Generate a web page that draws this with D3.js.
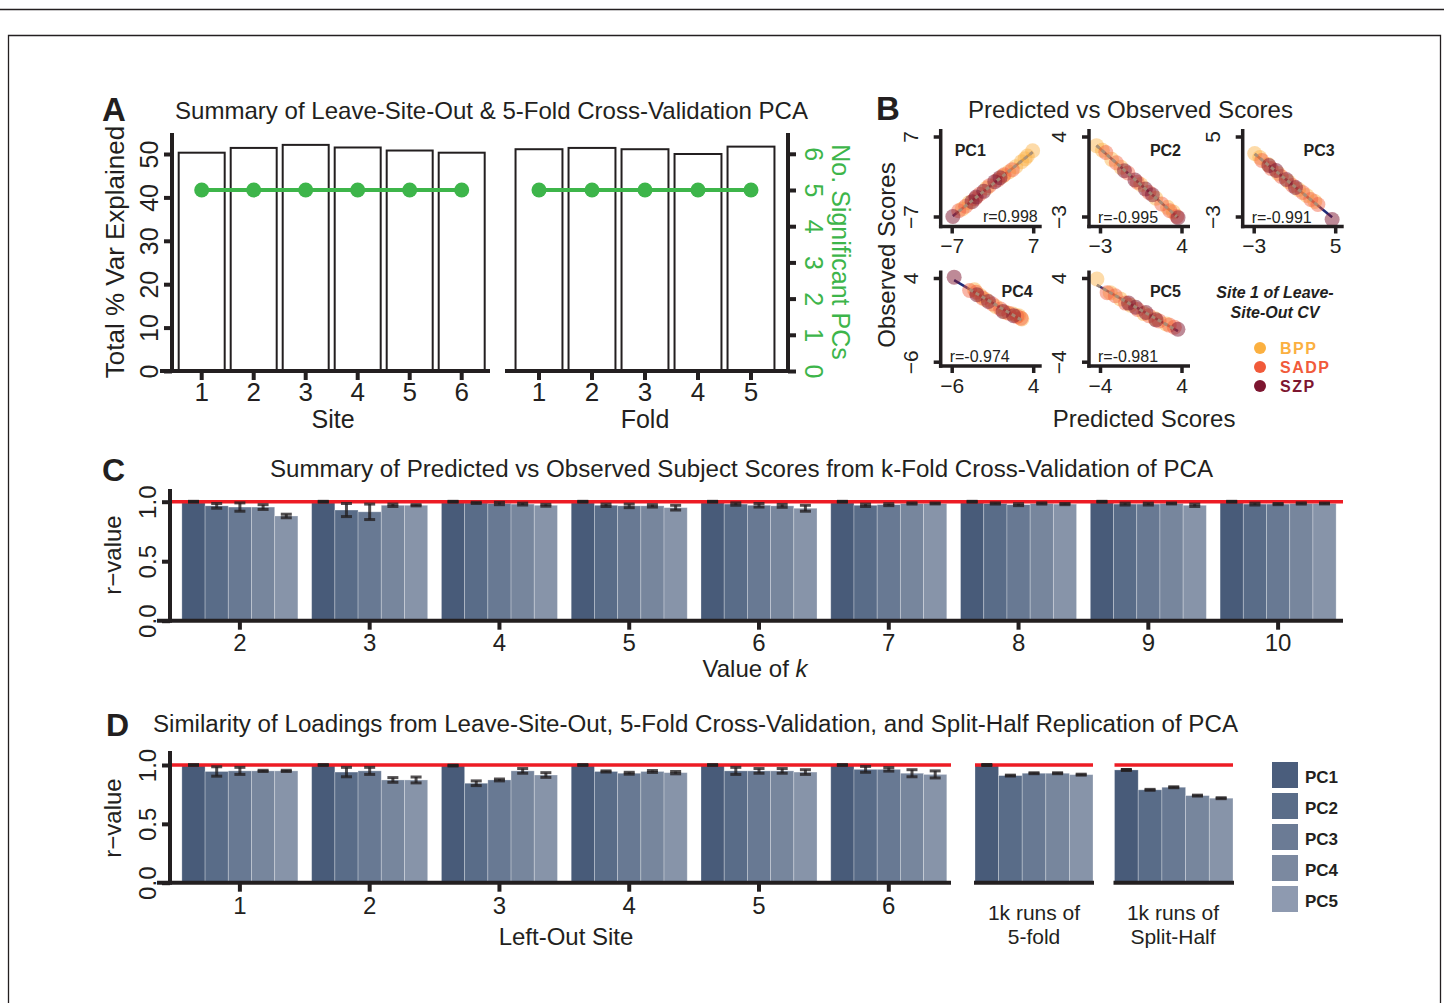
<!DOCTYPE html>
<html>
<head>
<meta charset="utf-8">
<script src="https://cdn.jsdelivr.net/npm/d3@7"></script>
<style>
  body { margin: 0; background: #fff; }
  svg text { font-family: "Liberation Sans", Arial, Helvetica, sans-serif; }
</style>
</head>
<body>
<svg id="fig" width="1444" height="1003"></svg>
<script>
// ---- Panel A data
const sites = [1, 2, 3, 4, 5, 6];
const siteVarExplained = [50.3, 51.4, 52.1, 51.5, 50.8, 50.3];
const siteSigPCs = [5, 5, 5, 5, 5, 5];
const folds = [1, 2, 3, 4, 5];
const foldVarExplained = [51.1, 51.4, 51.1, 50.0, 51.7];
const foldSigPCs = [5, 5, 5, 5, 5];
const varTicks = [0, 10, 20, 30, 40, 50];
const sigTicks = [0, 1, 2, 3, 4, 5, 6];

// ---- Panel B data: [predicted, observed, group index]
const groups = ['BPP', 'SADP', 'SZP'];
const pc1Scores = [
  [-5.2, -5.7, 0], [-4.0, -4.6, 0], [-1.0, -2.0, 0], [1.8, 0.1, 0], [2.8, 0.8, 0],
  [4.0, 1.7, 0], [5.0, 2.6, 0], [5.6, 3.1, 0], [6.0, 3.6, 0], [6.9, 4.5, 0],
  [-5.8, -6.0, 1], [-4.6, -5.2, 1], [-3.0, -3.9, 1], [-2.2, -3.1, 1], [-0.5, -1.6, 1],
  [0.9, -0.6, 1], [2.0, 0.3, 1], [3.4, 1.2, 1],
  [-6.8, -7.0, 2], [-3.5, -4.4, 2], [-2.8, -3.6, 2], [-1.5, -2.6, 2], [0.4, -0.9, 2], [1.3, -0.2, 2]
];
const pc2Scores = [
  [-3.3, 3.2, 0], [-2.8, 2.8, 0], [-2.0, 2.0, 0], [-1.2, 1.3, 0], [0.5, -0.2, 0],
  [1.8, -1.4, 0], [2.8, -2.2, 0], [3.3, -2.6, 0],
  [-2.5, 2.6, 1], [-1.6, 1.7, 1], [-0.6, 0.8, 1], [0.2, 0.0, 1], [1.2, -0.9, 1],
  [2.3, -1.9, 1], [3.0, -2.5, 1], [3.6, -3.0, 1],
  [-0.9, 1.0, 2], [0.0, 0.2, 2], [0.9, -0.6, 2], [1.5, -1.1, 2], [3.7, -3.1, 2]
];
const pc3Scores = [
  [-2.9, 3.3, 0], [-2.4, 2.9, 0], [-1.6, 2.2, 0], [-0.6, 1.3, 0], [0.4, 0.5, 0],
  [1.4, -0.3, 0], [2.2, -0.9, 0], [3.0, -1.5, 0],
  [-2.2, 2.6, 1], [-1.3, 1.8, 1], [-0.3, 1.0, 1], [0.8, 0.1, 1], [1.8, -0.6, 1],
  [2.6, -1.3, 1], [3.3, -1.8, 1],
  [-1.5, 2.1, 2], [-0.8, 1.6, 2], [0.2, 0.7, 2], [1.1, -0.1, 2], [4.7, -3.3, 2]
];
const pc4Scores = [
  [-3.2, 2.6, 0], [-2.5, 1.9, 0], [-1.8, 1.4, 0], [-0.6, 0.6, 0], [0.6, -0.1, 0],
  [1.5, -0.3, 0], [2.2, -0.5, 0], [2.6, -0.9, 0],
  [-3.8, 2.5, 1], [-3.0, 2.3, 1], [-2.2, 1.6, 1], [-1.0, 0.9, 1], [0.0, 0.3, 1],
  [1.0, -0.2, 1], [2.0, -0.6, 1], [2.5, -0.8, 1],
  [-5.7, 4.1, 2], [-2.9, 2.0, 2], [-1.5, 1.2, 2], [0.3, 0.0, 2], [1.6, -0.5, 2]
];
const pc5Scores = [
  [-4.3, 3.9, 0], [-3.0, 2.6, 0], [-2.0, 2.0, 0], [-1.0, 1.4, 0], [0.3, 0.6, 0],
  [1.4, 0.1, 0], [2.5, -0.4, 0],
  [-3.3, 2.6, 1], [-2.5, 2.3, 1], [-1.5, 1.6, 1], [-0.3, 1.0, 1], [0.8, 0.4, 1],
  [1.8, -0.1, 1], [2.8, -0.5, 1], [3.3, -0.7, 1],
  [-1.2, 1.6, 2], [-0.5, 1.2, 2], [0.5, 0.7, 2], [1.5, 0.0, 2], [3.65, -0.9, 2]
];
const scatterNames = ['PC1', 'PC2', 'PC3', 'PC4', 'PC5'];
const scatterR = ['r=0.998', 'r=-0.995', 'r=-0.991', 'r=-0.974', 'r=-0.981'];
const scatterTicks = [[-7, 7], [-3, 4], [-3, 5], [-6, 4], [-4, 4]];

// ---- Panel C data (mean r and error per PC, for each k)
const pcs = ['PC1', 'PC2', 'PC3', 'PC4', 'PC5'];
const kValues = [2, 3, 4, 5, 6, 7, 8, 9, 10];
const kMeans = [
  [1.0, 0.965, 0.955, 0.955, 0.88],
  [1.0, 0.93, 0.915, 0.97, 0.97],
  [1.0, 0.99, 0.985, 0.98, 0.97],
  [1.0, 0.97, 0.965, 0.965, 0.95],
  [1.0, 0.98, 0.97, 0.965, 0.945],
  [1.0, 0.97, 0.975, 0.985, 0.985],
  [1.0, 0.985, 0.975, 0.985, 0.98],
  [1.0, 0.98, 0.98, 0.985, 0.97],
  [1.0, 0.98, 0.98, 0.985, 0.985]
];
const kErrs = [
  [0.003, 0.02, 0.035, 0.02, 0.015],
  [0.003, 0.055, 0.065, 0.01, 0.005],
  [0.003, 0.005, 0.01, 0.008, 0.008],
  [0.003, 0.01, 0.015, 0.01, 0.02],
  [0.003, 0.01, 0.015, 0.012, 0.025],
  [0.003, 0.01, 0.008, 0.005, 0.004],
  [0.003, 0.005, 0.008, 0.005, 0.005],
  [0.003, 0.008, 0.008, 0.004, 0.01],
  [0.003, 0.008, 0.005, 0.005, 0.004]
];

// ---- Panel D data
const leftOutSites = [1, 2, 3, 4, 5, 6];
const siteMeans = [
  [1.0, 0.945, 0.95, 0.95, 0.95],
  [1.0, 0.94, 0.95, 0.873, 0.873],
  [0.995, 0.845, 0.873, 0.95, 0.915],
  [1.0, 0.945, 0.93, 0.945, 0.935],
  [1.0, 0.95, 0.95, 0.95, 0.94],
  [1.0, 0.963, 0.963, 0.93, 0.92]
];
const siteErrs = [
  [0.003, 0.04, 0.03, 0.005, 0.005],
  [0.003, 0.04, 0.03, 0.02, 0.025],
  [0.003, 0.02, 0.008, 0.02, 0.02],
  [0.003, 0.005, 0.008, 0.008, 0.01],
  [0.003, 0.03, 0.02, 0.02, 0.02],
  [0.003, 0.025, 0.015, 0.03, 0.03]
];
const fiveFoldMeans = [1.0, 0.91, 0.93, 0.93, 0.918];
const fiveFoldErrs = [0.004, 0.004, 0.004, 0.004, 0.004];
const splitHalfMeans = [0.958, 0.789, 0.811, 0.74, 0.718];
const splitHalfErrs = [0.004, 0.004, 0.004, 0.004, 0.004];

// ---- Styles
const ink = '#231f20';
const green = '#3db54a';
const red = '#ed1c24';
const navy = '#1f2a78';
const pcColors = ['#485b79', '#596c88', '#687993', '#77869d', '#8794a9'];
const legendColors = ['#4a5d7c', '#5a6d89', '#6b7b95', '#7b89a0', '#8e9ab0'];
const groupColors = ['#fbb040', '#f15a3a', '#7d1630'];

const svg = d3.select('#fig');

function label(g, txt, x, y, opts = {}) {
  const t = g.append('text')
    .attr('transform', `translate(${x},${y})` + (opts.rotate ? ` rotate(${opts.rotate})` : ''))
    .attr('text-anchor', opts.anchor || 'middle')
    .style('font-size', (opts.size || 24) + 'px')
    .style('font-weight', opts.weight || 'normal')
    .style('font-style', opts.italic ? 'italic' : 'normal')
    .style('fill', opts.fill || ink)
    .text(txt);
  if (opts.len) t.attr('textLength', opts.len).attr('lengthAdjust', 'spacingAndGlyphs');
  if (opts.spacing) t.style('letter-spacing', opts.spacing + 'px');
  return t;
}

function line(g, x1, y1, x2, y2, color, w) {
  return g.append('line')
    .attr('x1', x1).attr('y1', y1).attr('x2', x2).attr('y2', y2)
    .attr('stroke', color || ink).attr('stroke-width', w || 4);
}

// clean up a d3 axis: no domain path, thick ticks, styled labels
function styleAxis(g, size, color, tickW) {
  g.attr('font-size', null).attr('font-family', null);
  g.select('.domain').remove();
  g.selectAll('.tick line').attr('stroke', ink).attr('stroke-width', tickW || 4);
  g.selectAll('.tick text').style('fill', color || ink).style('font-size', size + 'px');
}

function rotateLabels(g, angle, off) {
  g.selectAll('.tick text')
    .attr('transform', `rotate(${angle})`)
    .attr('x', 0).attr('y', -off).attr('dy', 0)
    .attr('text-anchor', 'middle');
}

// ---- Frame
line(svg, 0, 9.5, 1444, 9.5, ink, 1.3);
svg.append('path').attr('d', 'M8.5,1003V35.5H1440.5V1003')
  .attr('fill', 'none').attr('stroke', ink).attr('stroke-width', 1.3);

// =================== Panel A ===================
const gA = svg.append('g');
label(gA, 'A', 102, 121, { anchor: 'start', size: 33, weight: 'bold' });
label(gA, 'Summary of Leave-Site-Out & 5-Fold Cross-Validation PCA', 175, 119,
  { anchor: 'start', size: 24, len: 633 });

const yVar = d3.scaleLinear().domain([0, 55]).range([371, 132.3]);
const ySig = d3.scaleLinear().domain([0, 6]).range([371, 153.8]);
const xSite = d3.scaleBand().domain(sites).range([175.7, 487.7])
  .paddingInner(0.077).paddingOuter(0.0385);
const xFold = d3.scaleBand().domain(folds).range([512.5, 777.5])
  .paddingInner(0.077).paddingOuter(0.0385);

function drawVarBars(x, cats, vals, sig) {
  gA.append('g').selectAll('rect').data(vals).join('rect')
    .attr('x', (d, i) => x(cats[i]) + 1)
    .attr('y', (d) => yVar(d))
    .attr('width', x.bandwidth() - 2)
    .attr('height', (d) => yVar(0) - yVar(d))
    .attr('fill', '#fff').attr('stroke', ink).attr('stroke-width', 2);
  const pts = sig.map((d, i) => [x(cats[i]) + x.bandwidth() / 2, ySig(d)]);
  gA.append('path').attr('d', d3.line()(pts))
    .attr('fill', 'none').attr('stroke', green).attr('stroke-width', 4);
  gA.append('g').selectAll('circle').data(pts).join('circle')
    .attr('cx', (d) => d[0]).attr('cy', (d) => d[1]).attr('r', 7.5).attr('fill', green);
}
drawVarBars(xSite, sites, siteVarExplained, siteSigPCs);
drawVarBars(xFold, folds, foldVarExplained, foldSigPCs);

// axes
const axA = gA.append('g').attr('transform', 'translate(172,0)')
  .call(d3.axisLeft(yVar).tickValues(varTicks).tickSize(8));
styleAxis(axA, 25);
rotateLabels(axA, -90, 14);
line(gA, 172, 133, 172, 373);
line(gA, 160, 371, 490, 371);
line(gA, 505, 371, 790, 371);

const axSite = gA.append('g').attr('transform', 'translate(0,371)')
  .call(d3.axisBottom(xSite).tickSize(9).tickPadding(3));
styleAxis(axSite, 26);
const axFold = gA.append('g').attr('transform', 'translate(0,371)')
  .call(d3.axisBottom(xFold).tickSize(9).tickPadding(3));
styleAxis(axFold, 26);

const axSig = gA.append('g').attr('transform', 'translate(788,0)')
  .call(d3.axisRight(ySig).tickValues(sigTicks).tickFormat(d3.format('d')).tickSize(8));
styleAxis(axSig, 25, green);
rotateLabels(axSig, 90, 17);
line(gA, 788, 133, 788, 373);

label(gA, 'Total % Var Explained', 124, 252, { rotate: -90, size: 26 });
label(gA, 'Site', 333, 428, { size: 25 });
label(gA, 'Fold', 645, 428, { size: 25 });
label(gA, 'No. Significant PCs', 832, 252, { rotate: 90, size: 25, fill: green });

// =================== Panel B ===================
const gB = svg.append('g');
label(gB, 'B', 876, 120, { anchor: 'start', size: 33, weight: 'bold' });
label(gB, 'Predicted vs Observed Scores', 968, 118, { anchor: 'start', size: 24, len: 325 });

const scatterData = [pc1Scores, pc2Scores, pc3Scores, pc4Scores, pc5Scores];
const scatterAxisX = [940.7, 1089, 1242.7, 940.7, 1089];
const scatterRow = [0, 0, 0, 1, 1];
const rowLayout = [
  { hi: 136.5, lo: 216.5, top: 129, base: 226.5 },
  { hi: 278, lo: 361.7, top: 270.5, base: 366 }
];

function drawScatter(i) {
  const ax = scatterAxisX[i];
  const row = rowLayout[scatterRow[i]];
  const [t0, t1] = scatterTicks[i];
  const x = d3.scaleLinear().domain([t0, t1]).range([ax + 11, ax + 92.5]);
  const y = d3.scaleLinear().domain([t0, t1]).range([row.lo, row.hi]);
  const g = gB.append('g');
  const pts = scatterData[i];

  // least-squares fit through all points
  const mx = d3.mean(pts, (d) => d[0]);
  const my = d3.mean(pts, (d) => d[1]);
  const b = d3.sum(pts, (d) => (d[0] - mx) * (d[1] - my)) / d3.sum(pts, (d) => (d[0] - mx) ** 2);
  const a = my - b * mx;
  const [lo, hi] = d3.extent(pts, (d) => d[0]);
  line(g, x(lo), y(a + b * lo), x(hi), y(a + b * hi), navy, 2.5);

  g.selectAll('circle').data(pts).join('circle')
    .attr('cx', (d) => x(d[0])).attr('cy', (d) => y(d[1])).attr('r', 7.5)
    .attr('fill', (d) => groupColors[d[2]])
    .attr('fill-opacity', (d) => (d[2] === 2 ? 0.5 : 0.45));

  const [dlo, dhi] = d3.extent(pts.filter((d) => d[2] < 2), (d) => d[0]);
  line(g, x(dlo), y(a + b * dlo), x(dhi), y(a + b * dhi), '#a8937c', 3)
    .attr('stroke-dasharray', '4,3').attr('stroke-opacity', 0.85);

  // axes
  const fmt = d3.format('d');
  const axX = g.append('g').attr('transform', `translate(0,${row.base})`)
    .call(d3.axisBottom(x).tickValues([t0, t1]).tickFormat(fmt).tickSize(7).tickPadding(5));
  styleAxis(axX, 21, ink, 3.5);
  const axY = g.append('g').attr('transform', `translate(${ax},0)`)
    .call(d3.axisLeft(y).tickValues([t0, t1]).tickFormat(fmt).tickSize(7));
  styleAxis(axY, 21, ink, 3.5);
  rotateLabels(axY, -90, 23);
  line(g, ax, row.top, ax, row.base + 1.75, ink, 3.5);
  line(g, ax - 1.75, row.base, ax + 101, row.base, ink, 3.5);

  if (i === 0) {
    label(g, scatterNames[i], ax + 14, row.hi + 19, { anchor: 'start', size: 16, weight: 'bold' });
    label(g, scatterR[i], ax + 97, row.base - 5, { anchor: 'end', size: 16 });
  } else {
    label(g, scatterNames[i], ax + 92, row.hi + 19, { anchor: 'end', size: 16, weight: 'bold' });
    label(g, scatterR[i], ax + 9, row.base - 4, { anchor: 'start', size: 16 });
  }
}
scatterData.forEach((d, i) => drawScatter(i));

label(gB, 'Observed Scores', 895, 255, { rotate: -90, size: 24 });
label(gB, 'Predicted Scores', 1144, 427, { size: 24 });

// group legend
label(gB, 'Site 1 of Leave-', 1275, 298, { size: 16, weight: 'bold', italic: true });
label(gB, 'Site-Out CV', 1275, 318, { size: 16, weight: 'bold', italic: true });
gB.append('g').selectAll('circle').data(groups).join('circle')
  .attr('cx', 1260).attr('cy', (d, i) => 348 + i * 19).attr('r', 6)
  .attr('fill', (d, i) => groupColors[i]);
groups.forEach((gname, i) => {
  label(gB, gname, 1280, 354 + i * 19, { anchor: 'start', size: 16, weight: 'bold',
    fill: groupColors[i], spacing: 1.5 });
});

// =================== Bar helpers (C, D) ===================
function drawBars(g, x0, cats, means, y) {
  const x1 = d3.scaleBand().domain(pcs).range([0, x0.bandwidth()]);
  cats.forEach((c, i) => {
    g.append('g').selectAll('rect').data(means[i]).join('rect')
      .attr('x', (d, j) => x0(c) + x1(pcs[j]))
      .attr('y', (d) => y(d))
      .attr('width', x1.bandwidth())
      .attr('height', (d) => y(0) - y(d))
      .attr('fill', (d, j) => pcColors[j])
      .attr('stroke', '#ffffff').attr('stroke-opacity', 0.35).attr('stroke-width', 0.8);
  });
}

function drawErrs(g, x0, cats, means, errs, y) {
  const x1 = d3.scaleBand().domain(pcs).range([0, x0.bandwidth()]);
  cats.forEach((c, i) => {
    means[i].forEach((m, j) => {
      const cx = x0(c) + x1(pcs[j]) + x1.bandwidth() / 2;
      const e = errs[i][j];
      const eg = g.append('g').attr('stroke', ink).attr('stroke-opacity', j === 0 ? 0.95 : 0.78);
      line(eg, cx, y(m - e), cx, y(m + e), null, 3).attr('stroke', null);
      line(eg, cx - 5.5, y(m - e), cx + 5.5, y(m - e), null, 3).attr('stroke', null);
      line(eg, cx - 5.5, y(m + e), cx + 5.5, y(m + e), null, 3).attr('stroke', null);
    });
  });
}

function drawRAxis(g, y, top) {
  const ax = g.append('g').attr('transform', 'translate(170,0)')
    .call(d3.axisLeft(y).tickValues([0, 0.5, 1]).tickFormat(d3.format('.1f')).tickSize(8));
  styleAxis(ax, 24);
  rotateLabels(ax, -90, 14);
  line(g, 170, top, 170, y(0) + 2);
}

// =================== Panel C ===================
const gC = svg.append('g');
label(gC, 'C', 102, 481, { anchor: 'start', size: 32, weight: 'bold' });
label(gC, 'Summary of Predicted vs Observed Subject Scores from k-Fold Cross-Validation of PCA',
  270, 477, { anchor: 'start', size: 23, len: 943 });

const yC = d3.scaleLinear().domain([0, 1]).range([620.7, 501.7]);
const xK = d3.scaleBand().domain(kValues).range([175, 1343])
  .paddingInner(0.106).paddingOuter(0.053);
drawBars(gC, xK, kValues, kMeans, yC);
line(gC, 170, yC(1), 1343, yC(1), red, 3.5);
drawErrs(gC, xK, kValues, kMeans, kErrs, yC);
drawRAxis(gC, yC, 489);
line(gC, 157, yC(0), 1343, yC(0));
const axK = gC.append('g').attr('transform', `translate(0,${yC(0)})`)
  .call(d3.axisBottom(xK).tickSize(9).tickPadding(4));
styleAxis(axK, 24);

label(gC, 'r\u2212value', 121, 555, { rotate: -90, size: 24 });
const kTitle = label(gC, '', 755, 677, { size: 24 });
kTitle.append('tspan').text('Value of ');
kTitle.append('tspan').style('font-style', 'italic').text('k');

// =================== Panel D ===================
const gD = svg.append('g');
label(gD, 'D', 106, 736, { anchor: 'start', size: 32, weight: 'bold' });
label(gD, 'Similarity of Loadings from Leave-Site-Out, 5-Fold Cross-Validation, and Split-Half Replication of PCA',
  153, 732, { anchor: 'start', size: 23, len: 1085 });

const yD = d3.scaleLinear().domain([0, 1]).range([882.7, 765]);
const xSiteD = d3.scaleBand().domain(leftOutSites).range([175, 175 + 6 * 129.78])
  .paddingInner(0.106).paddingOuter(0.053);
const xFive = d3.scaleBand().domain(['5-fold']).range([975, 1093]);
const xSplit = d3.scaleBand().domain(['Split-Half']).range([1114.5, 1233]);

drawBars(gD, xSiteD, leftOutSites, siteMeans, yD);
drawBars(gD, xFive, ['5-fold'], [fiveFoldMeans], yD);
drawBars(gD, xSplit, ['Split-Half'], [splitHalfMeans], yD);
line(gD, 170, yD(1), 951, yD(1), red, 3.5);
line(gD, 975, yD(1), 1093, yD(1), red, 3.5);
line(gD, 1114.5, yD(1), 1233, yD(1), red, 3.5);
drawErrs(gD, xSiteD, leftOutSites, siteMeans, siteErrs, yD);
drawErrs(gD, xFive, ['5-fold'], [fiveFoldMeans], [fiveFoldErrs], yD);
drawErrs(gD, xSplit, ['Split-Half'], [splitHalfMeans], [splitHalfErrs], yD);
drawRAxis(gD, yD, 751);
line(gD, 157, yD(0), 951, yD(0));
line(gD, 974, yD(0), 1094, yD(0));
line(gD, 1113.5, yD(0), 1234, yD(0));
const axSD = gD.append('g').attr('transform', `translate(0,${yD(0)})`)
  .call(d3.axisBottom(xSiteD).tickSize(9).tickPadding(5));
styleAxis(axSD, 24);

label(gD, 'r\u2212value', 121, 818, { rotate: -90, size: 24 });
label(gD, 'Left-Out Site', 566, 945, { size: 24 });
label(gD, '1k runs of', 1034, 920, { size: 21 });
label(gD, '5-fold', 1034, 944, { size: 21 });
label(gD, '1k runs of', 1173, 920, { size: 21 });
label(gD, 'Split-Half', 1173, 944, { size: 21 });

// PC legend
const legD = gD.append('g');
legD.selectAll('rect').data(pcs).join('rect')
  .attr('x', 1272).attr('y', (d, i) => 762 + i * 31)
  .attr('width', 26).attr('height', 26)
  .attr('fill', (d, i) => legendColors[i]);
pcs.forEach((p, i) => {
  label(legD, p, 1305, 783 + i * 31, { anchor: 'start', size: 17, weight: 'bold' });
});
</script>
</body>
</html>
